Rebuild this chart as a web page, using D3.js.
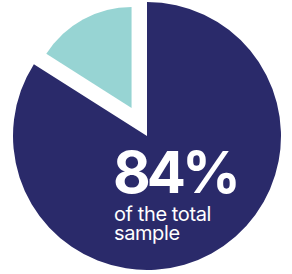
<!DOCTYPE html>
<html>
<head>
<meta charset="utf-8">
<script src="https://cdn.jsdelivr.net/npm/d3@7"></script>
<style>
  body { margin: 0; background: #fff; }
  svg { display: block; }
</style>
</head>
<body>
<div id="chart"></div>
<script>
// share of the sample, one slice per category
var categories = ["Total sample", "Rest"];
var values = [84, 16];
var colors = ["#2a2a6a", "#97d4d3"];
var bigLabel = "84%";
var subLabel = ["of the total", "sample"];

var width = 292, height = 274;
var cx = 147, cy = 136;

var svg = d3.select("#chart").append("svg")
    .attr("width", width)
    .attr("height", height);

var g = svg.append("g")
    .attr("transform", "translate(" + cx + "," + cy + ")");

var data = categories.map(function(c, i) { return {cat: c, val: values[i]}; });

var pie = d3.pie()
    .sort(null)
    .value(function(d) { return d.val; });

// main slice is full size, the small one is pulled out and drawn smaller
var radius = [134, 101];
var pullOut = [0, 32];

g.selectAll(".slice")
    .data(pie(data))
  .enter().append("path")
    .attr("class", "slice")
    .attr("d", function(d, i) {
        return d3.arc().innerRadius(0).outerRadius(radius[i])(d);
    })
    .attr("transform", function(d, i) {
        var mid = (d.startAngle + d.endAngle) / 2;
        return "translate(" + (Math.sin(mid) * pullOut[i]) + "," + (-Math.cos(mid) * pullOut[i]) + ")";
    })
    .style("fill", function(d, i) { return colors[i]; });

var text = svg.append("g")
    .style("fill", "#fff")
    .style("font-family", "Inter, 'Noto Sans', sans-serif");

text.append("text")
    .attr("x", 113)
    .attr("y", 193)
    .style("font-size", "58px")
    .style("font-weight", 700)
    .style("letter-spacing", "-4px")
    .text(bigLabel);

text.selectAll(".sub")
    .data(subLabel)
  .enter().append("text")
    .attr("class", "sub")
    .attr("x", 114)
    .attr("y", function(d, i) { return 221 + i * 19; })
    .style("font-size", "20px")
    .style("font-weight", 400)
    .style("letter-spacing", "-0.4px")
    .text(function(d) { return d; });
</script>
</body>
</html>
